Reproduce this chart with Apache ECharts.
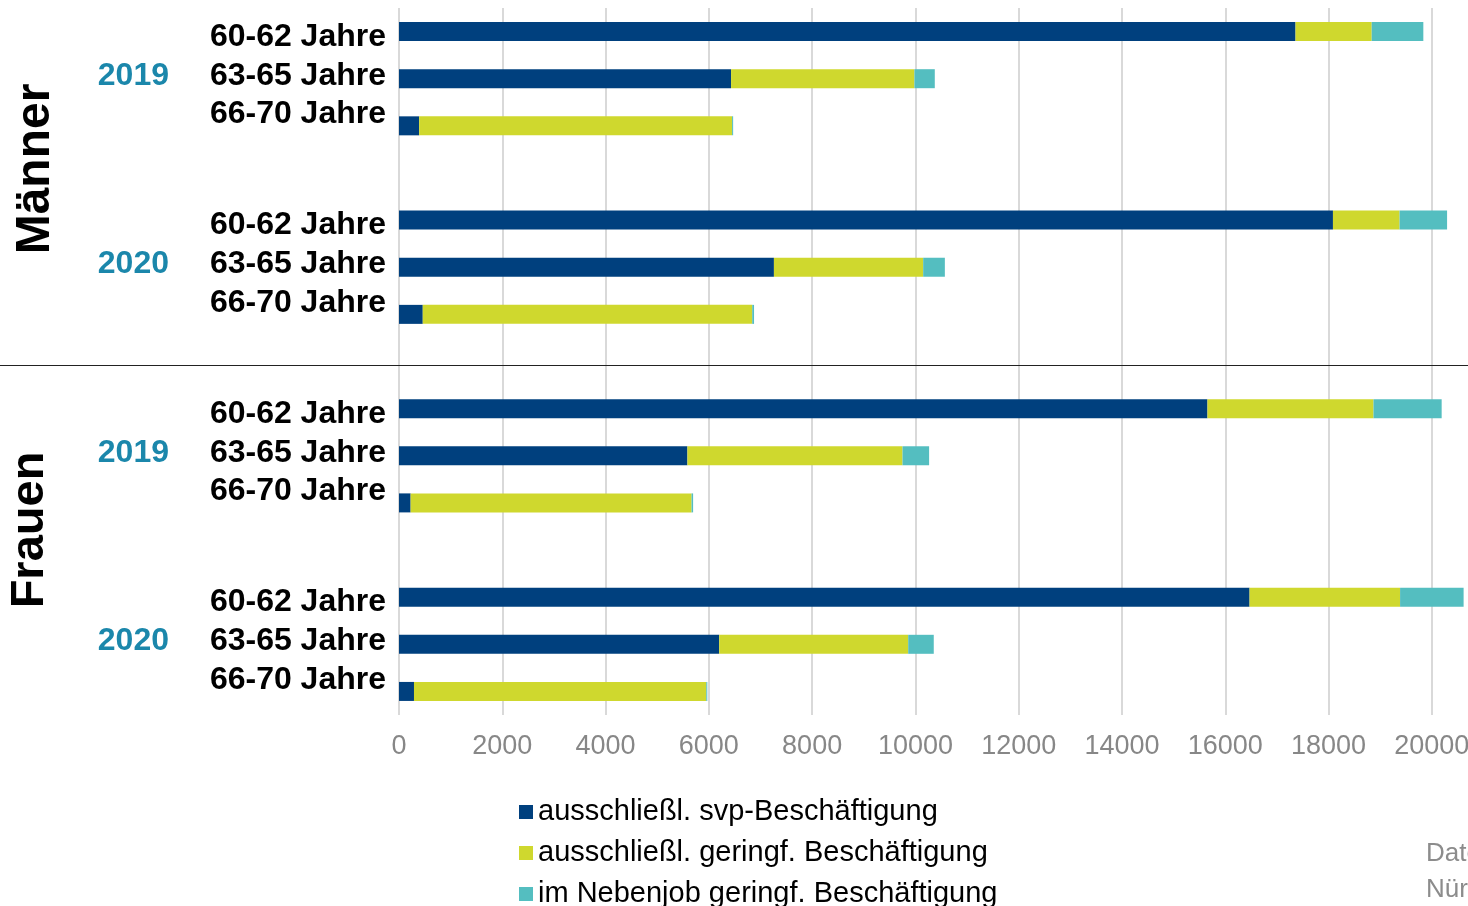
<!DOCTYPE html>
<html>
<head>
<meta charset="utf-8">
<script src="https://cdn.jsdelivr.net/npm/echarts@6/dist/echarts.min.js"></script>
<style>
  html, body { margin: 0; padding: 0; background: #fff; }
  #chart { width: 1468px; height: 906px; }
</style>
</head>
<body>
<div id="chart"></div>
<script>
// Gruppen: Männer 2019, Männer 2020, Frauen 2019, Frauen 2020
const ageGroups = ['60-62 Jahre', '63-65 Jahre', '66-70 Jahre'];
const groupYears = ['2019', '2020', '2019', '2020'];
const seriesNames = [
  'ausschließl. svp-Beschäftigung',
  'ausschließl. geringf. Beschäftigung',
  'im Nebenjob geringf. Beschäftigung',
];
// je Gruppe 3 Altersklassen
const svp = [17360, 6430, 390, 18085, 7260, 460, 15655, 5585, 225, 16470, 6200, 290];
const geringf = [1475, 3550, 6060, 1290, 2890, 6380, 3215, 4165, 5440, 2915, 3660, 5660];
const nebenjob = [1000, 395, 20, 920, 420, 35, 1320, 515, 30, 1230, 495, 20];
const xTicks = [0, 2000, 4000, 6000, 8000, 10000, 12000, 14000, 16000, 18000, 20000];

const colors = ['#00407e', '#cfd82e', '#54bec0'];

// Zeilen aufbauen, mit Leerzeile zwischen den Gruppen
const ageRows = [];
const yearRows = [];
const rowPos = []; // Position innerhalb der Gruppe (0..2), -1 = Leerzeile
function withGaps(values) {
  const out = [];
  values.forEach((v, i) => {
    out.push(v);
    if (i % 3 === 2 && i < values.length - 1) out.push('-');
  });
  return out;
}
groupYears.forEach((yr, g) => {
  ageGroups.forEach((age, a) => {
    ageRows.push(age);
    yearRows.push(a === 1 ? yr : '');
    rowPos.push(a);
  });
  if (g < groupYears.length - 1) {
    ageRows.push('');
    yearRows.push('');
    rowPos.push(-1);
  }
});
const rowKeys = ageRows.map((r, i) => 'r' + i);
const labelStyle = ['top', 'mid', 'bot'];

const chart = echarts.init(document.getElementById('chart'));

const option = {
  animation: false,
  color: colors,
  textStyle: { fontFamily: 'Liberation Sans, Arial, sans-serif' },
  grid: {
    left: 399,
    top: 8,
    right: 0,
    height: 707,
    outerBoundsMode: 'none',
  },
  xAxis: {
    type: 'value',
    min: xTicks[0],
    max: 20700,
    interval: 2000,
    axisLine: { show: false },
    axisTick: { show: false },
    axisLabel: {
      color: '#878787',
      fontSize: 27,
      margin: 18,
      showMaxLabel: false,
      formatter: (v) => (xTicks.indexOf(v) >= 0 ? String(v) : ''),
    },
    splitLine: { showMaxLine: false, lineStyle: { color: '#d9d9d9', width: 2 } },
  },
  yAxis: [
    {
      type: 'category',
      inverse: true,
      data: rowKeys,
      axisLine: { show: false },
      axisTick: { show: false },
      axisLabel: {
        color: '#000',
        fontSize: 32,
        fontWeight: 'bold',
        margin: 13,
        interval: 0,
        formatter: (v, i) => (rowPos[i] < 0 ? '' : '{' + labelStyle[rowPos[i]] + '|' + ageRows[i] + '}'),
        rich: {
          top: { fontSize: 32, fontWeight: 'bold', color: '#000', padding: [11, 0, 0, 0] },
          mid: { fontSize: 32, fontWeight: 'bold', color: '#000', padding: [0, 0, 6, 0] },
          bot: { fontSize: 32, fontWeight: 'bold', color: '#000', padding: [0, 0, 23, 0] },
        },
      },
    },
    {
      type: 'category',
      inverse: true,
      position: 'left',
      offset: 222,
      data: rowKeys,
      axisLine: { show: false },
      axisTick: { show: false },
      axisLabel: {
        color: '#1b87ab',
        fontSize: 32,
        fontWeight: 'bold',
        margin: 8,
        interval: 0,
        formatter: (v, i) => (yearRows[i] ? '{y|' + yearRows[i] + '}' : ''),
        rich: {
          y: { fontSize: 32, fontWeight: 'bold', color: '#1b87ab', padding: [0, 0, 6, 0] },
        },
      },
    },
  ],
  legend: {
    orient: 'vertical',
    left: 514,
    top: 792,
    height: 200,
    itemWidth: 14,
    itemHeight: 14,
    itemGap: 11,
    icon: 'rect',
    textStyle: { color: '#000', fontSize: 29, lineHeight: 30 },
    data: seriesNames,
  },
  series: [svp, geringf, nebenjob].map((vals, i) => ({
    name: seriesNames[i],
    type: 'bar',
    stack: 'total',
    barWidth: 19,
    data: withGaps(vals),
    itemStyle: { color: colors[i] },
  })),
  graphic: [
    {
      type: 'line',
      shape: { x1: 0, y1: 365.5, x2: 1468, y2: 365.5 },
      style: { stroke: '#222', lineWidth: 1.2 },
      z: 10,
    },
    {
      type: 'text',
      x: 36,
      y: 169,
      rotation: Math.PI / 2,
      style: {
        text: 'Männer',
        fill: '#000',
        font: 'bold 48px Liberation Sans, Arial, sans-serif',
        textAlign: 'center',
        textVerticalAlign: 'middle',
      },
    },
    {
      type: 'text',
      x: 30,
      y: 530,
      rotation: Math.PI / 2,
      style: {
        text: 'Frauen',
        fill: '#000',
        font: 'bold 47px Liberation Sans, Arial, sans-serif',
        textAlign: 'center',
        textVerticalAlign: 'middle',
      },
    },
    {
      type: 'text',
      left: 1426,
      top: 836,
      style: {
        text: 'Daten\nNürnberg',
        fill: '#8c8c8c',
        font: '26px Liberation Sans, Arial, sans-serif',
        lineHeight: 36,
      },
    },
  ],
};

chart.setOption(option);
</script>
</body>
</html>
